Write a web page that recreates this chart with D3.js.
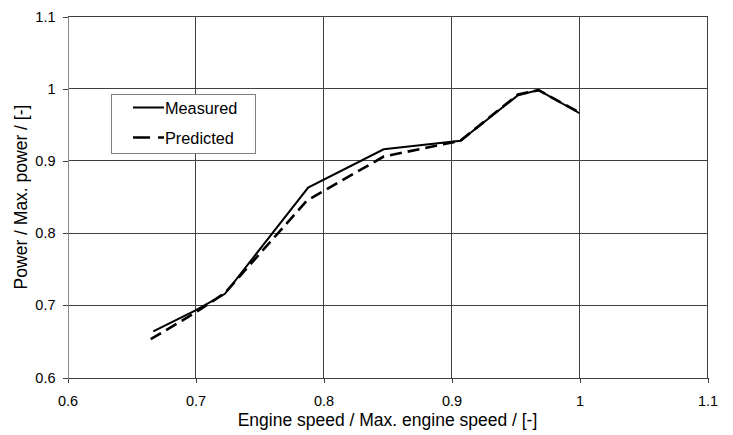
<!DOCTYPE html>
<html>
<head>
<meta charset="utf-8">
<script src="https://cdn.jsdelivr.net/npm/d3@7"></script>
<style>
  html, body { margin: 0; padding: 0; background: #fff; }
  svg { display: block; font-family: "Liberation Sans", Arial, sans-serif; }
</style>
</head>
<body>
<svg id="chart" width="733" height="435"></svg>
<script>
// ---- data ----
const speedMeasured = [0.667, 0.700, 0.723, 0.788, 0.847, 0.907, 0.952, 0.968, 1.000];
const powerMeasured = [0.664, 0.693, 0.716, 0.863, 0.916, 0.928, 0.991, 0.998, 0.966];
const speedPredicted = [0.665, 0.700, 0.723, 0.787, 0.847, 0.907, 0.952, 0.968, 1.000];
const powerPredicted = [0.653, 0.690, 0.717, 0.845, 0.906, 0.928, 0.992, 0.998, 0.967];
const xTicks = [0.6, 0.7, 0.8, 0.9, 1.0, 1.1];
const yTicks = [0.6, 0.7, 0.8, 0.9, 1.0, 1.1];
const seriesNames = ["Measured", "Predicted"];
const xTitle = "Engine speed / Max. engine speed / [-]";
const yTitle = "Power / Max. power / [-]";

// ---- layout ----
const W = 733, H = 435;
const m = { left: 67, right: 26, top: 16, bottom: 58 };
const svg = d3.select("#chart");

const x = d3.scaleLinear().domain([0.6, 1.1]).range([m.left + 0.5, W - m.right + 0.5]);
const y = d3.scaleLinear().domain([0.6, 1.1]).range([H - m.bottom + 0.5, m.top + 0.5]);

const fmt = d => d3.format("")(+d.toFixed(1));
const gridColor = "#404040";

// grid
const grid = svg.append("g").attr("shape-rendering", "crispEdges");
grid.selectAll(".vg").data(xTicks.slice(1)).join("line")
  .attr("x1", d => x(d)).attr("x2", d => x(d))
  .attr("y1", y(1.1)).attr("y2", y(0.6))
  .attr("stroke", gridColor).attr("stroke-width", 1);
grid.selectAll(".hg").data(yTicks.slice(1)).join("line")
  .attr("x1", x(0.6)).attr("x2", x(1.1))
  .attr("y1", d => y(d)).attr("y2", d => y(d))
  .attr("stroke", gridColor).attr("stroke-width", 1);

// axes
const xAxis = svg.append("g")
  .attr("transform", `translate(0,${y(0.6)})`)
  .call(d3.axisBottom(x).tickValues(xTicks).tickFormat(fmt).tickSize(5).tickPadding(13));
const yAxis = svg.append("g")
  .attr("transform", `translate(${x(0.6)},0)`)
  .call(d3.axisLeft(y).tickValues(yTicks).tickFormat(fmt).tickSize(5).tickPadding(7));

[xAxis, yAxis].forEach(a => {
  a.attr("shape-rendering", "crispEdges");
  a.selectAll("text").attr("font-size", 14.5).attr("fill", "#000")
    .attr("font-family", "'Liberation Sans', Arial, sans-serif");
  a.selectAll("line").attr("stroke", gridColor);
});
xAxis.select(".domain").attr("stroke", gridColor);
yAxis.select(".domain").attr("stroke", "#8a8a8a");

// titles
svg.append("text")
  .attr("x", (x(0.6) + x(1.1)) / 2).attr("y", 426)
  .attr("text-anchor", "middle").attr("font-size", 17.5).attr("fill", "#000")
  .text(xTitle);
svg.append("text")
  .attr("transform", `translate(27,${(y(0.6) + y(1.1)) / 2}) rotate(-90)`)
  .attr("text-anchor", "middle").attr("font-size", 17.5).attr("fill", "#000")
  .text(yTitle);

// lines
const line = d3.line().x(d => x(d[0])).y(d => y(d[1]));
const measured = d3.zip(speedMeasured, powerMeasured);
const predicted = d3.zip(speedPredicted, powerPredicted);

svg.append("path").datum(predicted)
  .attr("d", line).attr("fill", "none").attr("stroke", "#000")
  .attr("stroke-width", 2.6).attr("stroke-dasharray", "12,6");
svg.append("path").datum(measured)
  .attr("d", line).attr("fill", "none").attr("stroke", "#000")
  .attr("stroke-width", 2).attr("stroke-linejoin", "miter");

// legend
const lg = svg.append("g");
lg.append("rect").attr("x", 111.5).attr("y", 94.5).attr("width", 144).attr("height", 59)
  .attr("fill", "#fff").attr("stroke", "#808080").attr("stroke-width", 1)
  .attr("shape-rendering", "crispEdges");
const legendRows = [
  { name: seriesNames[0], dash: null, w: 2, ly: 107.5 },
  { name: seriesNames[1], dash: "17,8", w: 2.6, ly: 137.5 }
];
legendRows.forEach(r => {
  lg.append("line").attr("x1", 133).attr("x2", 164).attr("y1", r.ly).attr("y2", r.ly)
    .attr("stroke", "#000").attr("stroke-width", r.w)
    .attr("stroke-dasharray", r.dash);
  lg.append("text").attr("x", 165).attr("y", r.ly + 6)
    .attr("font-size", 16.3).attr("fill", "#000").text(r.name);
});
</script>
</body>
</html>
